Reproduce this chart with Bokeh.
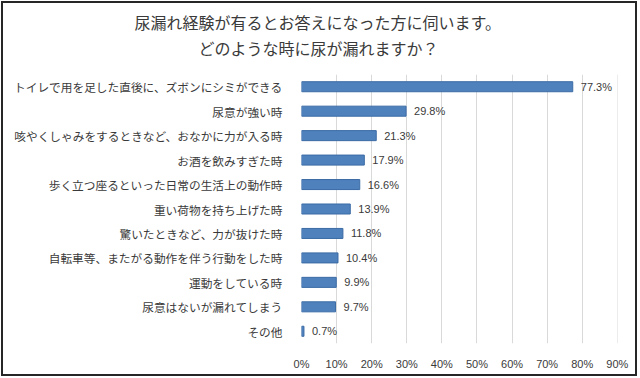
from bokeh.plotting import figure
from bokeh.models import FactorRange, Range1d, Title, PrintfTickFormatter, FixedTicker, ColumnDataSource
from bokeh.core.properties import value
from bokeh.embed import file_html
from bokeh.resources import INLINE

title_line1 = "尿漏れ経験が有るとお答えになった方に伺います。"
title_line2 = "どのような時に尿が漏れますか？"

categories = [
    "トイレで用を足した直後に、ズボンにシミができる",
    "尿意が強い時",
    "咳やくしゃみをするときなど、おなかに力が入る時",
    "お酒を飲みすぎた時",
    "歩く立つ座るといった日常の生活上の動作時",
    "重い荷物を持ち上げた時",
    "驚いたときなど、力が抜けた時",
    "自転車等、またがる動作を伴う行動をした時",
    "運動をしている時",
    "尿意はないが漏れてしまう",
    "その他",
]
percents = [77.3, 29.8, 21.3, 17.9, 16.6, 13.9, 11.8, 10.4, 9.9, 9.7, 0.7]
x_ticks = [0, 10, 20, 30, 40, 50, 60, 70, 80, 90]

labels = [f"{v:.1f}%" for v in percents]
source = ColumnDataSource(data=dict(cat=categories, val=percents, lab=labels))

JP = "Noto Sans CJK JP"
TXT = "#3a3a3a"

p = figure(
    width=638, height=377,
    y_range=FactorRange(*reversed(categories), range_padding=0),
    x_range=Range1d(0, 90.05),
    output_backend="svg", toolbar_location=None,
    min_border_left=301, min_border_right=21,
    min_border_bottom=34, min_border_top=74,
)
p.styles = {"outline": "2px solid #262626", "outline-offset": "-3px"}
p.outline_line_color = None
p.background_fill_color = "white"
p.border_fill_color = None

# spacer between title and plot area
p.add_layout(Title(text=" ", text_font_size="1px", standoff=12), "above")
p.add_layout(Title(text=title_line2, align="left", offset=-103, text_font=JP, text_font_size="16px",
                   text_font_style="normal", text_color=TXT, standoff=0), "above")
p.add_layout(Title(text=title_line1, align="left", offset=-167, text_font=JP, text_font_size="16px",
                   text_font_style="normal", text_color=TXT, standoff=0), "above")

p.hbar(y="cat", right="val", left=0, height=0.41, source=source,
       fill_color="#4F81BD", line_color="#3B6BA5", line_width=1)

p.text(x="val", y="cat", text="lab", source=source, x_offset=8,
       text_baseline="middle", text_align="left",
       text_font=value("Liberation Sans"), text_font_size="11px", text_color=TXT)

p.xaxis.ticker = FixedTicker(ticks=x_ticks)
p.xaxis.formatter = PrintfTickFormatter(format="%d%%")
p.xaxis.axis_line_color = None
p.xaxis.major_tick_line_color = None
p.xaxis.minor_tick_line_color = None
p.xaxis.major_label_text_font = "Liberation Sans"
p.xaxis.major_label_text_font_size = "11px"
p.xaxis.major_label_text_color = TXT
p.xaxis.major_label_standoff = 8

p.yaxis.axis_line_color = None
p.yaxis.major_tick_line_color = None
p.yaxis.minor_tick_line_color = None
p.yaxis.major_label_text_font = JP
p.yaxis.major_label_text_font_size = "11.7px"
p.yaxis.major_label_text_color = TXT
p.yaxis.major_label_standoff = 13

p.xgrid.grid_line_color = "#D9D9D9"
p.xgrid.grid_line_width = 1
p.ygrid.grid_line_color = None

open("out.html", "w").write(file_html(p, INLINE))
